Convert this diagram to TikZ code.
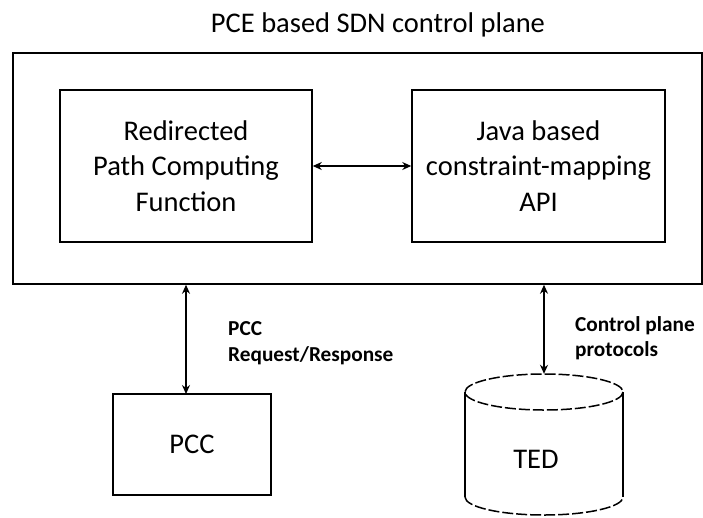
\documentclass[tikz,border=0pt]{standalone}
\usepackage{fontspec}
\setmainfont{Carlito}
\usetikzlibrary{arrows.meta}
\begin{document}
\begin{tikzpicture}[x=1pt,y=-1pt,
  box/.style={draw, line width=1.5pt, inner sep=0pt, align=center, font=\fontsize{28.5}{35.5}\selectfont},
  lbl/.style={align=left, inner sep=0pt, anchor=west, font=\bfseries\fontsize{21.3}{25.5}\selectfont},
  arr/.style={line width=1.4pt, {Stealth[length=9pt,width=8pt]}-{Stealth[length=9pt,width=8pt]}},
  cyl/.style={line width=1.5pt},
  cyldash/.style={line width=1.5pt, dash pattern=on 11pt off 3pt}]
\useasboundingbox (0,0) rectangle (703,517);
\node[anchor=base, font=\fontsize{28.5}{32}\selectfont, inner sep=0pt] (title) at (378,32) {PCE based SDN control plane};
\node[box, minimum width=689pt, minimum height=231pt] (outer) at (357.5,168.5) {};
\node[box, minimum width=252pt, minimum height=152pt] (fn) at (186,166) {Redirected\\Path Computing\\Function};
\node[box, minimum width=253pt, minimum height=152pt] (api) at (538.5,166) {Java based\\constraint-mapping\\API};
\draw[arr] (fn.east) -- (api.west);
\node[box, minimum width=158pt, minimum height=101pt] (pcc) at (192,444.5) {PCC};
\coordinate (pcctop) at (186,394);
\draw[arr] (pcctop) -- (pcctop |- outer.south);
\node[lbl] (pcclbl) at (228,343) {PCC\\Request/Response};
% TED cylinder
\node[draw=none, minimum width=158pt, minimum height=141pt, inner sep=0pt] (ted) at (544,444.5) {};
\draw[cyl] (465,392) -- (465,497);
\draw[cyl] (623,392) -- (623,497);
\draw[cyldash] (544,392) ellipse [x radius=79, y radius=18];
\draw[cyldash] (465,497) arc[start angle=180, end angle=0, x radius=79, y radius=18];
\node[font=\fontsize{28.5}{32}\selectfont, inner sep=0pt, anchor=base] (tedtxt) at (536,468) {TED};
\draw[arr] (ted.north) -- (ted.north |- outer.south);
\node[lbl] (cplbl) at (575,338) {Control plane\\protocols};
\end{tikzpicture}
\end{document}
